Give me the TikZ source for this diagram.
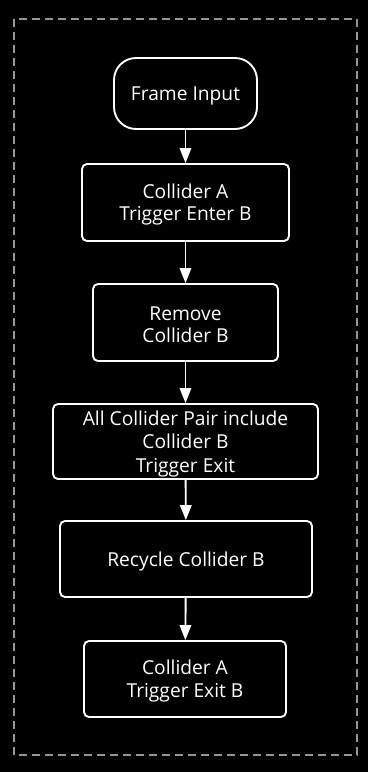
\documentclass[tikz,border=0pt]{standalone}
\usepackage{fontspec}
\setmainfont{Open Sans}
\usetikzlibrary{arrows.meta}
\begin{document}
\begin{tikzpicture}[x=1pt,y=-1pt,
  box/.style={draw=white,line width=1.9pt,rounded corners=5pt,inner sep=0pt},
  term/.style={box,rounded corners=22pt},
  txt/.style={text=white,align=center,inner sep=0pt,font=\fontsize{19.2}{22.6}\selectfont},
  flow/.style={draw=white,line width=1.9pt,-{Triangle[width=11.5pt,length=15pt]}}]
\fill[black] (0,0) rectangle (368,772);
\useasboundingbox (0,0) rectangle (368,772);
\draw[draw={rgb,255:red,150;green,150;blue,150},line width=1.6pt,dash pattern=on 8pt off 5pt] (14,19) rectangle (357,755);
\node[term,minimum width=143pt,minimum height=71pt] (n1) at (185.5,93.5) {};
\node[txt] (t1) at ([yshift=-2.2pt]n1.center) {Frame Input};
\node[box,minimum width=207pt,minimum height=77pt] (n2) at (185.5,202.5) {};
\node[txt] (t2) at ([yshift=-2.2pt]n2.center) {Collider A\\Trigger Enter B};
\node[box,minimum width=185pt,minimum height=77pt] (n3) at (185.5,322.5) {};
\node[txt] (t3) at ([yshift=-2.2pt]n3.center) {Remove\\Collider B};
\node[box,minimum width=265pt,minimum height=75pt] (n4) at (185.5,441.5) {};
\node[txt,font=\fontsize{19.2}{23.6}\selectfont] (t4) at ([yshift=-2.2pt]n4.center) {All Collider Pair include\\Collider B\\Trigger Exit};
\node[box,minimum width=252pt,minimum height=76pt] (n5) at (186,559) {};
\node[txt] (t5) at ([yshift=-2.2pt]n5.center) {Recycle Collider B};
\node[box,minimum width=202pt,minimum height=76pt] (n6) at (185,679) {};
\node[txt] (t6) at ([yshift=-2.2pt]n6.center) {Collider A\\Trigger Exit B};
\draw[flow] (n1) -- (n2);
\draw[flow] (n2) -- (n3);
\draw[flow] (n3) -- (n4);
\draw[flow] (n4) -- (n5);
\draw[flow] (n5) -- (n6);
\end{tikzpicture}
\end{document}
